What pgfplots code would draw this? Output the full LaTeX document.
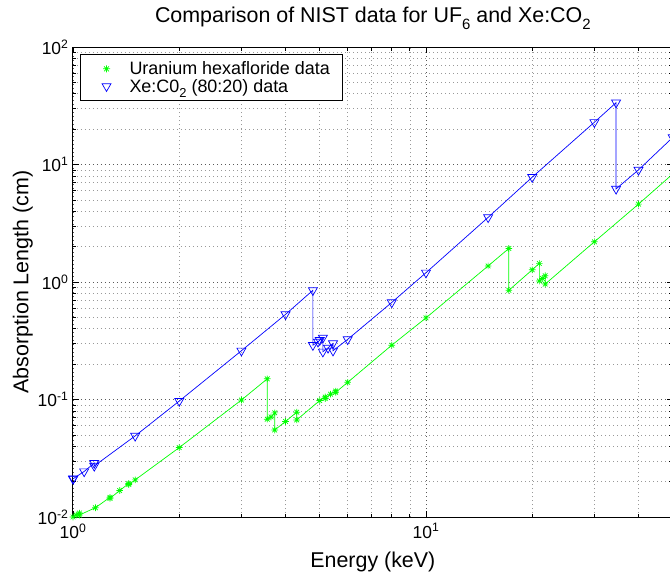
\documentclass[border=0pt]{standalone}
\usepackage{fontspec}
\setmainfont{Liberation Sans}
\usepackage{pgfplots}
\pgfplotsset{compat=1.18}
\usepackage{pgfplotstable}

\pgfdeclareplotmark{mstar}{%
  \pgfpathmoveto{\pgfqpoint{-\pgfplotmarksize}{0pt}}%
  \pgfpathlineto{\pgfqpoint{\pgfplotmarksize}{0pt}}%
  \pgfpathmoveto{\pgfqpoint{0pt}{-\pgfplotmarksize}}%
  \pgfpathlineto{\pgfqpoint{0pt}{\pgfplotmarksize}}%
  \pgfpathmoveto{\pgfqpoint{-0.7071\pgfplotmarksize}{-0.7071\pgfplotmarksize}}%
  \pgfpathlineto{\pgfqpoint{0.7071\pgfplotmarksize}{0.7071\pgfplotmarksize}}%
  \pgfpathmoveto{\pgfqpoint{-0.7071\pgfplotmarksize}{0.7071\pgfplotmarksize}}%
  \pgfpathlineto{\pgfqpoint{0.7071\pgfplotmarksize}{-0.7071\pgfplotmarksize}}%
  \pgfusepathqstroke}
\pgfdeclareplotmark{vtri}{%
  \pgfpathmoveto{\pgfqpoint{0pt}{-\pgfplotmarksize}}%
  \pgfpathlineto{\pgfqpoint{0.866\pgfplotmarksize}{0.5\pgfplotmarksize}}%
  \pgfpathlineto{\pgfqpoint{-0.866\pgfplotmarksize}{0.5\pgfplotmarksize}}%
  \pgfpathclose\pgfusepathqstroke}

\newcommand{\tsub}[1]{\raisebox{-7bp}{\fontsize{15}{15}\selectfont #1}}
\newcommand{\lsub}[1]{\raisebox{-5bp}{\fontsize{13}{13}\selectfont #1}}

\pgfplotstableread{
E L
1.0 0.0100
1.0214 0.0104
1.0428 0.0108
1.0428 0.0104
1.1577 0.0120
1.2726 0.0147
1.2726 0.0144
1.3559 0.0168
1.4391 0.0193
1.4391 0.0189
1.5 0.0207
2 0.039
3 0.099
3.552 0.150
3.552 0.068
3.64 0.071
3.728 0.077
3.728 0.055
4 0.065
4.303 0.078
4.303 0.067
5 0.098
5.182 0.105
5.182 0.102
5.365 0.111
5.548 0.118
5.548 0.115
6 0.140
8 0.290
10 0.495
15 1.37
17.17 1.93
17.17 0.85
20 1.27
20.95 1.44
20.95 1.02
21.36 1.07
21.76 1.13
21.76 0.96
30 2.2
40 4.6
50 8.3
}\uftable

\pgfplotstableread{
E L
1.0 0.0211
1.0021 0.0212
1.0755 0.0244
1.1487 0.0288
1.1487 0.0272
1.5 0.049
2 0.097
3 0.26
4 0.53
4.782 0.85
4.782 0.29
4.943 0.31
5.0 0.32
5.104 0.335
5.104 0.255
5.2785 0.275
5.453 0.30
5.453 0.26
6 0.325
8 0.67
10 1.2
15 3.55
20 7.8
30 22.9
34.56 33.6
34.56 6.2
40 9.0
50 17.0
}\xetable

\begin{document}
\begin{tikzpicture}
\useasboundingbox (-73bp,-61bp) rectangle (597bp,517bp);
\begin{axis}[
  at={(0,0)}, anchor=south west,
  scale only axis, width=599.7bp, height=470bp,
  xmode=log, ymode=log,
  xmin=1, xmax=50, ymin=0.01, ymax=100,
  xtick={1,10}, xticklabels={10\textsuperscript{0},10\textsuperscript{1}},
  minor xtick={2,3,4,5,6,7,8,9,20,30,40,50},
  ytick={0.01,0.1,1,10,100},
  yticklabels={10\textsuperscript{-2},10\textsuperscript{-1},10\textsuperscript{0},10\textsuperscript{1},10\textsuperscript{2}},
  minor ytick={0.02,0.03,0.04,0.05,0.06,0.07,0.08,0.09,0.2,0.3,0.4,0.5,0.6,0.7,0.8,0.9,2,3,4,5,6,7,8,9,20,30,40,50,60,70,80,90},
  tick align=inside,
  major tick length=6bp, minor tick length=3.5bp,
  every tick/.style={black, line width=0.7bp},
  axis line style={black, line width=1bp},
  grid=both,
  major grid style={black!65, line width=0.6bp, dash pattern=on 1bp off 3bp},
  minor grid style={black!40, line width=0.6bp, dash pattern=on 1bp off 3bp},
  tick label style={font=\fontsize{17.5}{20}\selectfont},
  xticklabel style={anchor=north, yshift=-3bp},
  yticklabel style={anchor=east, xshift=-1bp},
  title={Comparison of NIST data for UF\tsub{6} and Xe:CO\tsub{2}},
  title style={font=\fontsize{21.5}{24}\selectfont, at={(axis description cs:0.5,1)}, anchor=base, yshift=19bp},
  xlabel={Energy (keV)},
  xlabel style={font=\fontsize{21.5}{24}\selectfont, at={(axis description cs:0.5,0)}, anchor=base, yshift=-50bp},
  ylabel={Absorption Length (cm)},
  ylabel style={font=\fontsize{21.5}{24}\selectfont, at={(axis description cs:-0.0742,0.5)}, anchor=base},
  legend style={at={(axis description cs:0.0117,0.985)}, anchor=north west,
    draw=black, line width=1bp, font=\fontsize{18}{19}\selectfont,
    inner xsep=4bp, inner ysep=5bp, row sep=-1bp,
    cells={anchor=west}},
  legend image code/.code={\path[draw=none,fill=none] (0bp,-1bp) rectangle (43bp,1bp); \draw[#1] plot coordinates {(22bp,0bp)};},
  clip marker paths=false,
]
\addplot[green, line width=0.7bp, mark=mstar, mark size=3.3bp, forget plot] table[x=E,y=L] {\uftable};
\addplot[blue, line width=0.7bp, mark=vtri, mark size=5.2bp, forget plot] table[x=E,y=L] {\xetable};
\addlegendimage{only marks, green, line width=0.7bp, mark=mstar, mark size=3.5bp}
\addlegendentry{Uranium hexafloride data\hspace*{7bp}}
\addlegendimage{only marks, blue, line width=0.7bp, mark=vtri, mark size=5.2bp}
\addlegendentry{Xe:C0\lsub{2} (80:20) data}
\end{axis}
\end{tikzpicture}
\end{document}
